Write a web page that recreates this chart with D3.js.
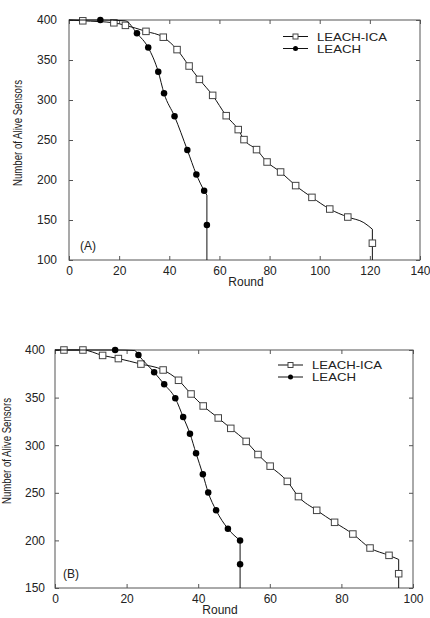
<!DOCTYPE html>
<html>
<head>
<meta charset="utf-8">
<script src="https://cdn.jsdelivr.net/npm/d3@7"></script>
<style>
  body { margin: 0; background: #fff; }
  svg { display: block; font-family: Arial, 'Liberation Sans', sans-serif; }
</style>
</head>
<body>
<main></main>
<script>
// Panel A data (round, alive sensors)
const icaRoundsA = [0, 5.5, 17.9, 22.5, 30.7, 37.6, 43.1, 47.9, 52, 57.3, 62.7, 67.5, 69.8, 74.8, 79, 84.4, 90.4, 96.9, 104, 111.2, 117.6, 121, 121];
const icaAliveA = [400, 399, 396.5, 393.3, 385.8, 378.5, 363, 342.5, 325.8, 305.8, 280.4, 263, 250.5, 238, 222.5, 210, 193, 178.3, 163.7, 153.7, 146.7, 138.5, 100];
const icaMarkRoundsA = [5.5, 17.9, 22.5, 30.7, 37.6, 43.1, 47.9, 52, 57.3, 62.7, 67.5, 69.8, 74.8, 79, 84.4, 90.4, 96.9, 104, 111.2, 121];
const icaMarkAliveA = [399, 396.5, 393.3, 385.8, 378.5, 363, 342.5, 325.8, 305.8, 280.4, 263, 250.5, 238, 222.5, 210, 193, 178.3, 163.7, 153.7, 121];

const leachRoundsA = [0, 12.5, 22.4, 27.1, 31.6, 35.6, 37.9, 42.1, 47.2, 50.8, 53.9, 55, 55];
const leachAliveA = [400, 400, 399, 383.3, 365.5, 335.4, 308.3, 279.6, 237.5, 207, 186.7, 181, 100];
const leachMarkRoundsA = [12.5, 27.1, 31.6, 35.6, 37.9, 42.1, 47.2, 50.8, 53.9, 55];
const leachMarkAliveA = [400, 383.3, 365.5, 335.4, 308.3, 279.6, 237.5, 207, 186.7, 143.8];

// Panel B data
const icaRoundsB = [0, 2.5, 7.8, 13.3, 17.7, 24, 30.2, 34.5, 38, 41.4, 45.6, 49.1, 53.4, 56.7, 60.1, 64.9, 68, 73.1, 78.1, 83.2, 88, 93.3, 96, 96];
const icaAliveB = [400, 400, 400, 394.3, 391, 385.2, 379, 368.2, 353.8, 341.2, 328.6, 317.7, 304, 290.2, 278, 262, 246, 231.6, 219, 206.7, 192, 184.3, 180, 150];
const icaMarkRoundsB = [2.5, 7.8, 13.3, 17.7, 24, 30.2, 34.5, 38, 41.4, 45.6, 49.1, 53.4, 56.7, 60.1, 64.9, 68, 73.1, 78.1, 83.2, 88, 93.3, 96];
const icaMarkAliveB = [400, 400, 394.3, 391, 385.2, 379, 368.2, 353.8, 341.2, 328.6, 317.7, 304, 290.2, 278, 262, 246, 231.6, 219, 206.7, 192, 184.3, 165];

const leachRoundsB = [0, 16.8, 22.3, 23.3, 27.7, 30.5, 33.6, 35.8, 37.7, 39.4, 41.3, 42.8, 45, 48.3, 51.7, 51.7];
const leachAliveB = [400, 400, 399.5, 394.7, 376.6, 364, 349.3, 329.6, 312.1, 291.5, 269.4, 250.2, 231.6, 212.3, 200, 150];
const leachMarkRoundsB = [16.8, 23.3, 27.7, 30.5, 33.6, 35.8, 37.7, 39.4, 41.3, 42.8, 45, 48.3, 51.7, 51.7];
const leachMarkAliveB = [400, 394.7, 376.6, 364, 349.3, 329.6, 312.1, 291.5, 269.4, 250.2, 231.6, 212.3, 200, 175];

const xTicksA = [0, 20, 40, 60, 80, 100, 120, 140];
const yTicksA = [100, 150, 200, 250, 300, 350, 400];
const xTicksB = [0, 20, 40, 60, 80, 100];
const yTicksB = [150, 200, 250, 300, 350, 400];
const seriesNames = ['LEACH-ICA', 'LEACH'];

const w = 430;
const h = 618;
const svg = d3.select('main').append('svg').attr('width', w).attr('height', h);

const zip = (xs, ys) => xs.map((x, i) => [x, ys[i]]);

function panel(o) {
  const x = d3.scaleLinear().domain(o.xDomain).range([o.left, o.right]);
  const y = d3.scaleLinear().domain(o.yDomain).range([o.bottom, o.top]);
  const g = svg.append('g');
  const frame = '#555';
  const tl = 4;

  // inward ticks on all four sides
  g.append('g').attr('transform', `translate(0,${o.bottom})`)
    .call(d3.axisBottom(x).tickValues(o.xTicks).tickSize(-tl).tickPadding(6))
    .call(a => a.select('.domain').remove());
  g.append('g').attr('transform', `translate(0,${o.top})`)
    .call(d3.axisTop(x).tickValues(o.xTicks).tickSize(-tl).tickFormat(''))
    .call(a => a.select('.domain').remove());
  g.append('g').attr('transform', `translate(${o.left},0)`)
    .call(d3.axisLeft(y).tickValues(o.yTicks).tickSize(-tl).tickPadding(o.yPad))
    .call(a => a.select('.domain').remove());
  g.append('g').attr('transform', `translate(${o.right},0)`)
    .call(d3.axisRight(y).tickValues(o.yTicks).tickSize(-tl).tickFormat(''))
    .call(a => a.select('.domain').remove());
  g.selectAll('.tick line').attr('stroke', frame);
  g.selectAll('.tick text').attr('fill', '#222').style('font-size', '12px');

  g.append('rect')
    .attr('x', o.left).attr('y', o.top)
    .attr('width', o.right - o.left).attr('height', o.bottom - o.top)
    .attr('fill', 'none').attr('stroke', frame).attr('stroke-width', 1);

  const smooth = d3.line().x(d => x(d[0])).y(d => y(d[1])).curve(d3.curveMonotoneX);
  const straight = d3.line().x(d => x(d[0])).y(d => y(d[1]));

  o.series.forEach((s) => {
    const pts = zip(s.rounds, s.alive);
    const cut = pts.findIndex((p, i) => i > 0 && p[0] === pts[i - 1][0]);
    g.append('path').attr('d', smooth(pts.slice(0, cut)))
      .attr('fill', 'none').attr('stroke', '#111').attr('stroke-width', 1);
    g.append('path').attr('d', straight(pts.slice(cut - 1)))
      .attr('fill', 'none').attr('stroke', '#111').attr('stroke-width', 1);
    drawMarkers(g, zip(s.markRounds, s.markAlive).map(d => [x(d[0]), y(d[1])]), s.square);
  });

  // legend
  o.series.forEach((s, i) => {
    const ly = o.legendY + i * 12;
    g.append('line').attr('x1', o.legendX).attr('x2', o.legendX + 25)
      .attr('y1', ly).attr('y2', ly).attr('stroke', '#111');
    drawMarkers(g, [[o.legendX + 12.5, ly]], s.square, 5);
    g.append('text').attr('x', o.legendX + 34).attr('y', ly + 4)
      .attr('fill', '#222').style('font-size', '10.5px')
      .attr('textLength', s.square ? 70 : 44).attr('lengthAdjust', 'spacingAndGlyphs')
      .text(s.name);
  });

  g.append('text').attr('x', o.tagX).attr('y', o.bottom - 10)
    .attr('fill', '#222').style('font-size', '12px').text(o.tag);

  g.append('text').attr('x', o.roundX).attr('y', o.bottom + 26)
    .attr('text-anchor', 'middle').attr('fill', '#222')
    .style('font-size', '12px').text('Round');

  g.append('text')
    .attr('transform', `translate(${o.ylabX},${o.ylabY}) rotate(-90)`)
    .attr('text-anchor', 'middle').attr('fill', '#222')
    .attr('textLength', 106).attr('lengthAdjust', 'spacingAndGlyphs')
    .style('font-size', '13px').text('Number of Alive Sensors');
}

function drawMarkers(g, pts, square, size = 6.5) {
  if (square) {
    g.selectAll(null).data(pts).enter().append('rect')
      .attr('x', d => d[0] - size / 2).attr('y', d => d[1] - size / 2)
      .attr('width', size).attr('height', size)
      .attr('fill', '#fff').attr('stroke', '#444').attr('stroke-width', 1);
  } else {
    g.selectAll(null).data(pts).enter().append('circle')
      .attr('cx', d => d[0]).attr('cy', d => d[1]).attr('r', size / 2)
      .attr('fill', '#000');
  }
}

panel({
  left: 69, right: 420, top: 20, bottom: 260,
  xDomain: [0, 140], yDomain: [100, 400],
  xTicks: xTicksA, yTicks: yTicksA, yPad: 12,
  legendX: 283, legendY: 36.5, tag: '(A)', tagX: 80, roundX: 246,
  ylabX: 22, ylabY: 133,
  series: [
    { name: seriesNames[0], square: true, rounds: icaRoundsA, alive: icaAliveA, markRounds: icaMarkRoundsA, markAlive: icaMarkAliveA },
    { name: seriesNames[1], square: false, rounds: leachRoundsA, alive: leachAliveA, markRounds: leachMarkRoundsA, markAlive: leachMarkAliveA },
  ],
});

panel({
  left: 55, right: 413, top: 350, bottom: 588,
  xDomain: [0, 100], yDomain: [150, 400],
  xTicks: xTicksB, yTicks: yTicksB, yPad: 10,
  legendX: 278, legendY: 365, tag: '(B)', tagX: 63, roundX: 220,
  ylabX: 11, ylabY: 451,
  series: [
    { name: seriesNames[0], square: true, rounds: icaRoundsB, alive: icaAliveB, markRounds: icaMarkRoundsB, markAlive: icaMarkAliveB },
    { name: seriesNames[1], square: false, rounds: leachRoundsB, alive: leachAliveB, markRounds: leachMarkRoundsB, markAlive: leachMarkAliveB },
  ],
});
</script>
</body>
</html>
